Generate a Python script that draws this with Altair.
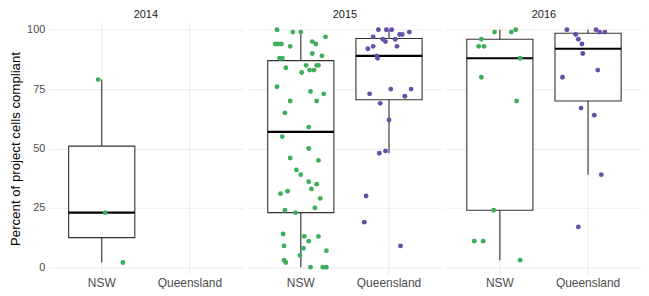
import altair as alt
import pandas as pd

# ---- data ----
years = ["2014", "2015", "2016"]
states = ["NSW", "Queensland"]

# jittered observations: (value, horizontal jitter in category units)
nsw_2014_vals = [79, 23, 2]
nsw_2014_jit = [-0.04, 0.04, 0.24]

nsw_2015_vals = [100, 99, 99, 97, 95, 94, 94, 94, 94, 93, 90, 89, 88, 88, 85, 85, 85, 84,
                 83, 83, 82, 76, 74, 73, 70, 70, 65, 59, 55, 50, 46, 45, 41, 39, 36, 35,
                 33, 32, 31, 29, 25, 24, 23, 14, 13, 13, 11, 9, 8, 7, 5, 3, 2, 0, 0, 0]
nsw_2015_jit = [-0.27, -0.09, 0.00, 0.28, 0.13, 0.17, -0.29, -0.26, -0.22, -0.12, 0.13, 0.24,
                -0.24, -0.21, 0.06, 0.18, 0.20, -0.17, 0.10, 0.15, 0.01, -0.27, 0.11, 0.26,
                -0.12, 0.18, -0.18, 0.09, -0.21, 0.09, -0.12, 0.20, -0.05, 0.00, 0.09, 0.18,
                0.12, -0.15, -0.23, 0.22, 0.16, -0.18, -0.06, -0.20, 0.04, 0.20, 0.09, -0.19,
                0.03, 0.29, -0.01, -0.19, -0.17, 0.11, 0.25, 0.29]

qld_2015_vals = [100, 100, 100, 99, 98, 98, 97, 96, 96, 95, 93, 93, 92, 89, 88, 75, 75, 73,
                 72, 69, 62, 49, 48, 30, 19, 9]
qld_2015_jit = [-0.12, -0.03, 0.03, 0.23, 0.12, 0.15, -0.18, -0.07, 0.07, -0.04, -0.18, 0.09,
                -0.24, -0.14, -0.13, 0.02, 0.25, -0.22, 0.18, -0.10, 0.00, -0.04, -0.11,
                -0.26, -0.28, 0.13]

nsw_2016_vals = [100, 99, 99, 96, 93, 93, 88, 80, 70, 24, 11, 11, 3]
nsw_2016_jit = [0.18, -0.06, 0.13, -0.21, -0.24, -0.18, 0.23, -0.21, 0.19, -0.07, -0.29,
                -0.19, 0.23]

qld_2016_vals = [100, 100, 99, 99, 98, 96, 94, 90, 83, 80, 67, 64, 39, 17]
qld_2016_jit = [-0.24, 0.09, 0.13, 0.19, -0.14, -0.11, -0.07, -0.06, 0.11, -0.29, -0.08,
                0.07, 0.15, -0.11]

# box summaries (lower whisker, Q1, median, Q3, upper whisker)
box_year = ["2014", "2015", "2015", "2016", "2016"]
box_state = ["NSW", "NSW", "Queensland", "NSW", "Queensland"]
box_lower = [2, 0, 48, 3, 39]
box_q1 = [12.5, 23, 70.5, 24, 70]
box_median = [23, 57, 89, 88, 92]
box_q3 = [51, 87, 96.3, 96, 98.5]
box_upper = [79, 99, 100, 100, 100]

# ---- build table ----
rows = []
groups = [
    ("2014", "NSW", nsw_2014_vals, nsw_2014_jit),
    ("2015", "NSW", nsw_2015_vals, nsw_2015_jit),
    ("2015", "Queensland", qld_2015_vals, qld_2015_jit),
    ("2016", "NSW", nsw_2016_vals, nsw_2016_jit),
    ("2016", "Queensland", qld_2016_vals, qld_2016_jit),
]
for yr, st, vals, jits in groups:
    for v, j in zip(vals, jits):
        rows.append({"kind": "pt", "year": yr, "state": st, "value": v, "jitter": j})
for i in range(len(box_year)):
    rows.append({"kind": "box", "year": box_year[i], "state": box_state[i],
                 "lower": box_lower[i], "q1": box_q1[i], "median": box_median[i],
                 "q3": box_q3[i], "upper": box_upper[i]})
df = pd.DataFrame(rows)

W = 195
H = 253
step = W / 2.2
box_w = 0.75 * step

font = "Liberation Sans"
yscale = alt.Scale(domain=[-3, 103], nice=False, zero=False)
xscale = alt.Scale(domain=states, paddingInner=0, paddingOuter=0.1)

x_enc = alt.X("state:N", scale=xscale, sort=states,
              axis=alt.Axis(title=None, labelAngle=0, labelFontSize=12, labelPadding=3,
                            bandPosition=0.5, grid=True))
y_axis = alt.Axis(values=[0, 12.5, 25, 37.5, 50, 62.5, 75, 87.5, 100],
                  labelExpr="datum.value % 25 === 0 ? datum.label : ''",
                  gridWidth={"condition": {"test": "datum.value % 25 !== 0", "value": 0.6},
                             "value": 1.1},
                  title="Percent of project cells compliant", titleFontSize=13.3,
                  titleFontWeight="normal", titleColor="black", titlePadding=4,
                  labelFontSize=11, labelPadding=4)

base = alt.Chart().encode(x=x_enc)

whisk = base.transform_filter("datum.kind === 'box'").mark_rule(
    color="#333333", strokeWidth=1.1).encode(
    y=alt.Y("lower:Q", scale=yscale, axis=y_axis), y2="upper:Q")

box = base.transform_filter("datum.kind === 'box'").mark_bar(
    size=box_w, fill="white", stroke="#333333", strokeWidth=1.1).encode(
    y=alt.Y("q1:Q", scale=yscale), y2="q3:Q")

med = base.transform_filter("datum.kind === 'box'").mark_tick(
    size=box_w, thickness=2.2, color="black", opacity=1).encode(
    y=alt.Y("median:Q", scale=yscale))

pts = base.transform_filter("datum.kind === 'pt'").mark_circle(
    size=24, opacity=1).encode(
    y=alt.Y("value:Q", scale=yscale),
    xOffset=alt.XOffset("jitter:Q", scale=alt.Scale(domain=[-0.5, 0.5], range=[0, step])),
    color=alt.Color("state:N", scale=alt.Scale(domain=states, range=["#3dae5a", "#674ea7"]),
                    legend=None))

layered = alt.layer(whisk, box, med, pts).properties(width=W, height=H)

chart = layered.facet(
    data=df,
    column=alt.Column("year:N", sort=years, title=None,
                      header=alt.Header(labelFontSize=11, labelColor="#1a1a1a",
                                        labelFontWeight="normal",
                                        labelPadding=3, labelFont=font)),
    spacing=5,
).configure_view(stroke=None).configure_axis(
    domain=False, ticks=False, gridColor="#ebebeb", labelColor="#4d4d4d",
    labelFont=font, titleFont=font,
).properties(padding=0)

chart.save("out.html", embed_options={"renderer": "svg", "actions": False})
